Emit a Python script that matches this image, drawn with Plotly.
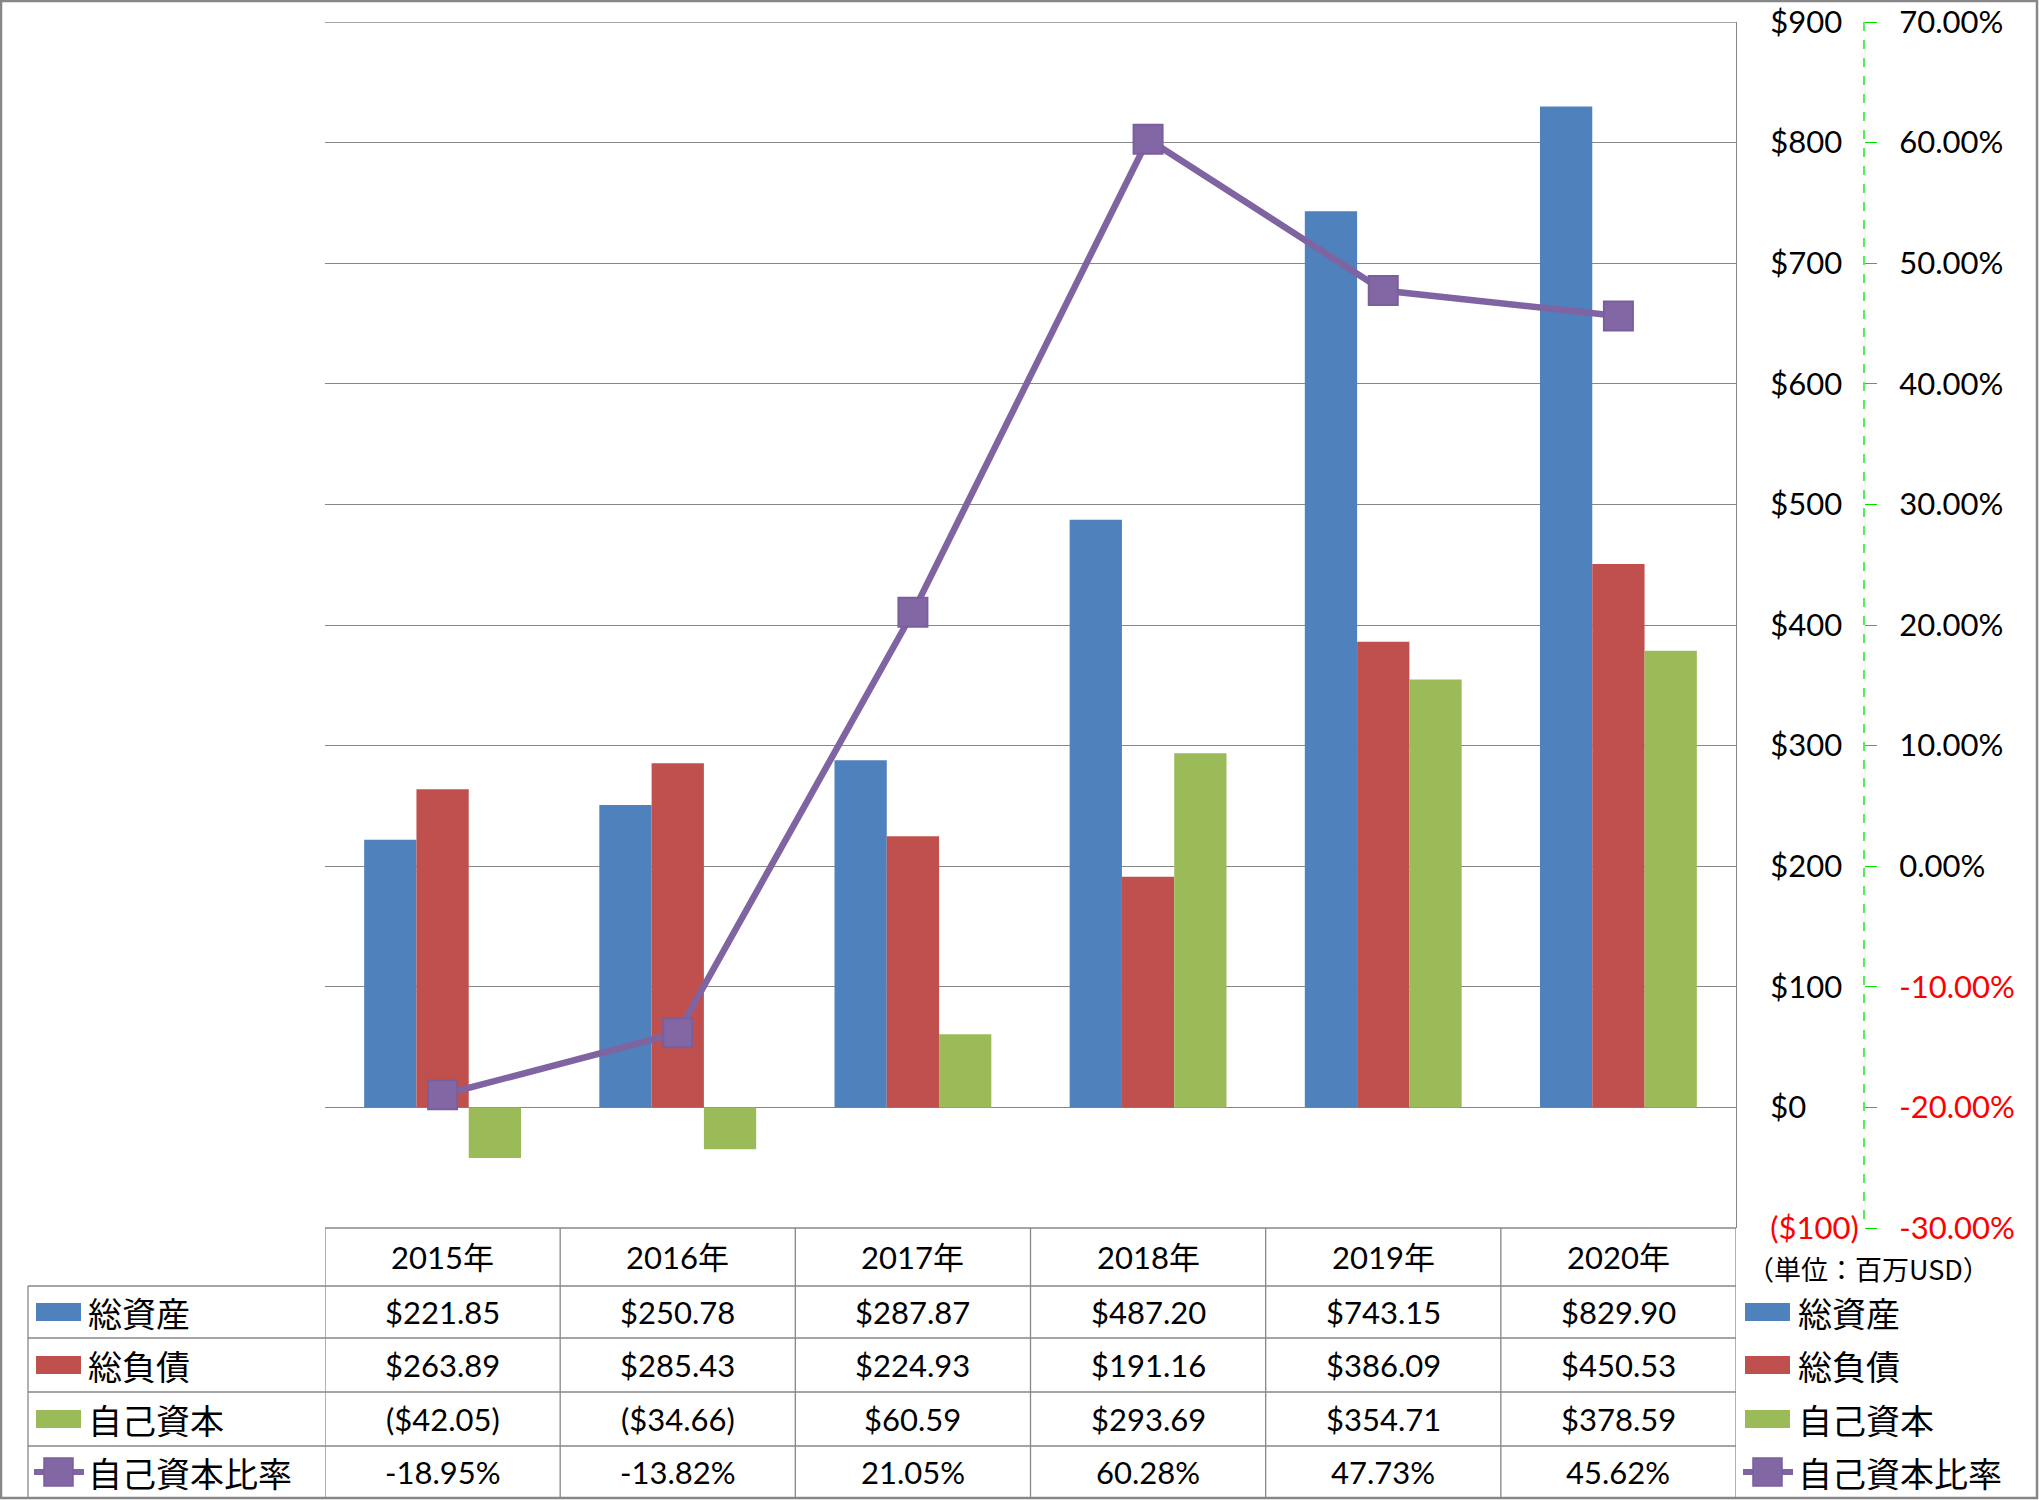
import plotly.graph_objects as go

W, H = 2039, 1500

categories = ["2015年", "2016年", "2017年", "2018年", "2019年", "2020年"]
total_assets = [221.85, 250.78, 287.87, 487.20, 743.15, 829.90]
total_liabilities = [263.89, 285.43, 224.93, 191.16, 386.09, 450.53]
equity = [-42.05, -34.66, 60.59, 293.69, 354.71, 378.59]
equity_ratio = [-18.95, -13.82, 21.05, 60.28, 47.73, 45.62]

series_names = ["総資産", "総負債", "自己資本", "自己資本比率"]
colors = ["#4F81BD", "#C0504D", "#9BBB59", "#8064A2"]

y1_ticks = [-100, 0, 100, 200, 300, 400, 500, 600, 700, 800, 900]
y2_ticks = [-30, -20, -10, 0, 10, 20, 30, 40, 50, 60, 70]
unit_label = "（単位：百万USD）"

FONT = "Lato, 'Noto Sans CJK JP', sans-serif"
JFONT = "'Noto Sans CJK JP', Lato, sans-serif"
GRID = "#878787"


def X(px):
    return px / W


def Y(py):
    return 1 - py / H


def money(v):
    return f"(${abs(v):,.2f})" if v < 0 else f"${v:,.2f}"


def y1_text(v):
    if v < 0:
        return f"<span style='color:#FF0000'>(${abs(v)})</span>"
    return f"${v}"


def y2_text(v):
    s = f"{v:.2f}%"
    if v < 0:
        return f"<span style='color:#FF0000'>{s}</span>"
    return s


fig = go.Figure()
for name, vals, col in zip(series_names[:3], [total_assets, total_liabilities, equity], colors[:3]):
    fig.add_trace(go.Bar(x=categories, y=vals, name=name, marker=dict(color=col, line=dict(width=0)),
                         yaxis="y"))

fig.add_trace(go.Scatter(x=categories, y=equity_ratio, name=series_names[3], yaxis="y2",
                         mode="lines+markers",
                         line=dict(color=colors[3], width=6.5),
                         marker=dict(symbol="square", size=29, color="#8366A4",
                                     line=dict(color="#7B5E9C", width=2))))

# plot area pixel geometry
PL, PR, PT, PB = 325, 1736, 22, 1228
AX2 = 1864

row_lines = [1286, 1338, 1392, 1446]
row_centers = [1257, 1312, 1365, 1419, 1472]
TB = 1498

shapes = []
line_style = dict(color=GRID, width=1.3)
# top gridline
shapes.append(dict(type="line", xref="paper", yref="y", x0=X(PL), x1=X(PR), y0=y1_ticks[-1], y1=y1_ticks[-1],
                   line=line_style, layer="below"))
# table header top
shapes.append(dict(type="line", xref="paper", yref="paper", x0=X(PL), x1=X(PR), y0=Y(PB), y1=Y(PB), line=line_style))
for ry in row_lines:
    shapes.append(dict(type="line", xref="paper", yref="paper", x0=X(28), x1=X(PR), y0=Y(ry), y1=Y(ry), line=line_style))
for k in range(len(categories) + 1):
    shapes.append(dict(type="line", xref="x", yref="paper", x0=k - 0.5, x1=k - 0.5, y0=Y(PB), y1=Y(TB), line=line_style))
shapes.append(dict(type="line", xref="paper", yref="paper", x0=X(28), x1=X(28), y0=Y(row_lines[0]), y1=Y(TB), line=line_style))
# secondary axis dashed line
shapes.append(dict(type="line", xref="paper", yref="paper", x0=X(AX2), x1=X(AX2), y0=Y(PT), y1=Y(PB),
                   line=dict(color="#00E000", width=1.3, dash="dash")))
# outer frame
shapes.append(dict(type="rect", xref="paper", yref="paper", x0=X(1), x1=X(2037), y0=Y(1), y1=Y(1498),
                   line=dict(color=GRID, width=2.5)))

annotations = []
# header
for c in categories:
    annotations.append(dict(x=c, xref="x", y=Y(row_centers[0]), yref="paper", text=c, showarrow=False,
                            xanchor="center", yanchor="middle", font=dict(family=FONT, size=31, color="black")))
rows = [[money(v) for v in total_assets], [money(v) for v in total_liabilities],
        [money(v) for v in equity], [f"{v:.2f}%" for v in equity_ratio]]
for ri, row in enumerate(rows):
    for c, t in zip(categories, row):
        annotations.append(dict(x=c, xref="x", y=Y(row_centers[ri + 1]), yref="paper", text=t, showarrow=False,
                                xanchor="center", yanchor="middle", font=dict(family=FONT, size=31, color="black")))


def legend_entry(x_sw, x_txt, yc, idx):
    if idx < 3:
        shapes.append(dict(type="rect", xref="paper", yref="paper", x0=X(x_sw), x1=X(x_sw + 45),
                           y0=Y(yc - 9), y1=Y(yc + 9), fillcolor=colors[idx], line=dict(width=0)))
    else:
        shapes.append(dict(type="line", xref="paper", yref="paper", x0=X(x_sw - 2), x1=X(x_sw + 48),
                           y0=Y(yc), y1=Y(yc), line=dict(color=colors[3], width=6)))
        shapes.append(dict(type="rect", xref="paper", yref="paper", x0=X(x_sw + 8), x1=X(x_sw + 37),
                           y0=Y(yc - 14), y1=Y(yc + 14), fillcolor="#8366A4", line=dict(color="#7B5E9C", width=1.5)))
    annotations.append(dict(x=X(x_txt), xref="paper", y=Y(yc), yref="paper", text=series_names[idx],
                            showarrow=False, xanchor="left", yanchor="middle",
                            font=dict(family=JFONT, size=34, color="black")))


for i in range(4):
    legend_entry(36, 86, row_centers[i + 1], i)
    legend_entry(1745, 1796, row_centers[i + 1], i)

annotations.append(dict(x=X(1868), xref="paper", y=Y(1268), yref="paper", text=unit_label, showarrow=False,
                        xanchor="center", yanchor="middle", font=dict(family=JFONT, size=27, color="black")))

fig.update_layout(
    width=W, height=H,
    margin=dict(l=0, r=0, t=0, b=0),
    template="none",
    paper_bgcolor="white", plot_bgcolor="white",
    showlegend=False,
    barmode="group", bargap=0.333, bargroupgap=0,
    font=dict(family=FONT, size=30, color="black"),
    xaxis=dict(domain=[X(PL), X(PR)], type="category", range=[-0.5, 5.5], showticklabels=False,
               showgrid=False, zeroline=False, showline=False, ticks="", automargin=False),
    yaxis=dict(domain=[Y(PB), Y(PT)], range=[-100, 900], tickvals=y1_ticks,
               ticktext=[y1_text(v) for v in y1_ticks], side="right",
               showgrid=True, gridcolor=GRID, gridwidth=1.3, zeroline=False,
               showline=True, linecolor=GRID, linewidth=1.3, ticks="",
               ticklabelstandoff=27, tickfont=dict(family=FONT, size=31, color="black"), automargin=False),
    yaxis2=dict(overlaying="y", side="right", anchor="free", position=X(AX2), range=[-30, 70],
                tickvals=y2_ticks, ticktext=[y2_text(v) for v in y2_ticks],
                showgrid=False, zeroline=False, showline=False, ticks="outside", ticklen=12,
                tickcolor="#00E000", tickwidth=1.3, ticklabelstandoff=16,
                tickfont=dict(family=FONT, size=31, color="black"), automargin=False),
    shapes=shapes,
    annotations=annotations,
)

fig.write_html("out.html", config={"displayModeBar": False},
               post_script="document.body.style.margin='0';document.body.style.padding='0';"
                           "document.documentElement.style.margin='0';")
